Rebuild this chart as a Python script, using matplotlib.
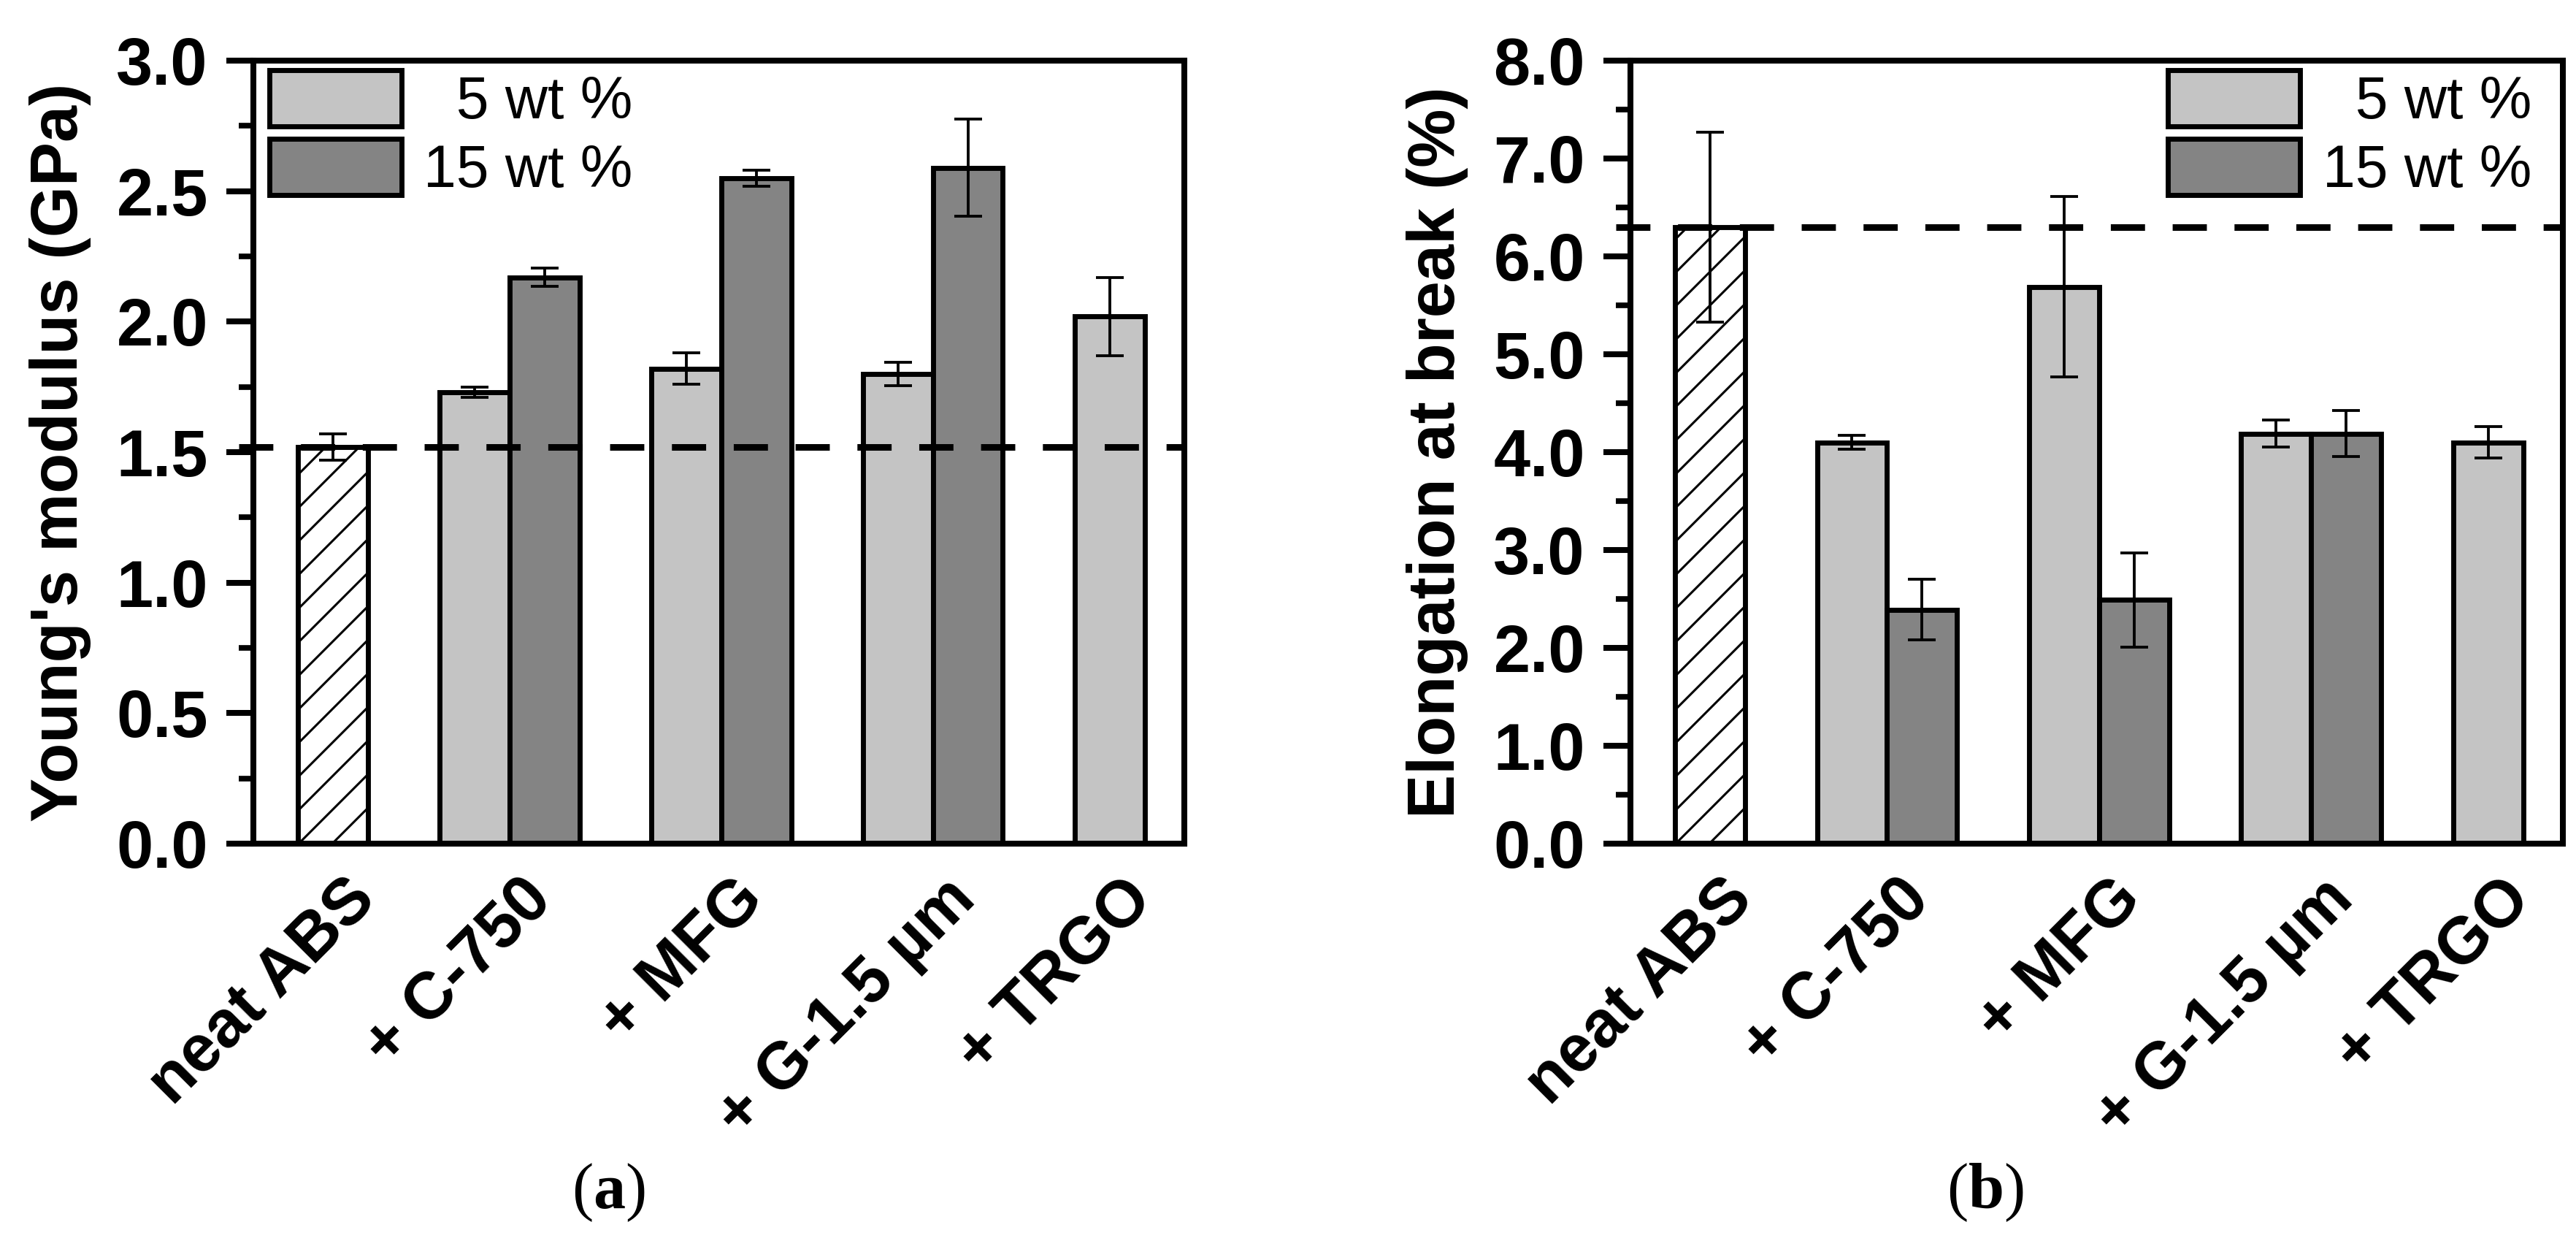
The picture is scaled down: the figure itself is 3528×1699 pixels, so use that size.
import numpy as np
import matplotlib
matplotlib.use("Agg")
import matplotlib.pyplot as plt
from matplotlib.ticker import MultipleLocator, FormatStrFormatter

# ---------------- data ----------------
categories = ["neat ABS", "+ C-750", "+ MFG", "+ G-1.5 µm", "+ TRGO"]
series_labels = ["  5 wt %", "15 wt %"]

modulus_neat = 1.52
modulus_neat_err = 0.05
modulus_5 = [np.nan, 1.73, 1.82, 1.80, 2.02]
modulus_5_err = [np.nan, 0.02, 0.06, 0.045, 0.15]
modulus_15 = [np.nan, 2.17, 2.55, 2.59, np.nan]
modulus_15_err = [np.nan, 0.035, 0.03, 0.185, np.nan]

elong_neat = 6.30
elong_neat_err = 0.97
elong_5 = [np.nan, 4.10, 5.69, 4.19, 4.10]
elong_5_err = [np.nan, 0.07, 0.92, 0.135, 0.16]
elong_15 = [np.nan, 2.39, 2.49, 4.19, np.nan]
elong_15_err = [np.nan, 0.31, 0.48, 0.235, np.nan]

modulus_ticks = [0.0, 0.5, 1.0, 1.5, 2.0, 2.5, 3.0]
elong_ticks = [0.0, 1.0, 2.0, 3.0, 4.0, 5.0, 6.0, 7.0, 8.0]

# ---------------- style ----------------
plt.rcParams['font.family'] = ['Liberation Sans', 'DejaVu Sans']
plt.rcParams['mathtext.fontset'] = 'custom'
plt.rcParams['mathtext.rm'] = 'Liberation Serif'
plt.rcParams['mathtext.bf'] = 'Liberation Serif:bold'
plt.rcParams['hatch.linewidth'] = 0.8

DPI = 276
fig = plt.figure(figsize=(3528 / DPI, 1699 / DPI), dpi=DPI)

LIGHT = '#c4c4c4'
DARK = '#848484'
W = 0.33
EDGE_LW = 1.8
SPINE_LW = 2.1
FS = 23.5

def panel(ax, neat, neat_err, v5, e5, v15, e15, ylim, ticks, minor, ylabel, legend_loc, legend_anchor):
    n = len(categories)
    x = np.arange(n)
    v5 = np.array(v5); e5 = np.array(e5)
    v15 = np.array(v15); e15 = np.array(e15)
    m5 = ~np.isnan(v5)
    m15 = ~np.isnan(v15)
    ekw = dict(elinewidth=1.0, capthick=1.0, ecolor='black')
    ax.bar(x[m5] - W / 2, v5[m5], W, yerr=e5[m5], color=LIGHT, edgecolor='black',
           linewidth=EDGE_LW, capsize=5, error_kw=ekw, label=series_labels[0], zorder=2)
    ax.bar(x[m15] + W / 2, v15[m15], W, yerr=e15[m15], color=DARK, edgecolor='black',
           linewidth=EDGE_LW, capsize=5, error_kw=ekw, label=series_labels[1], zorder=2)
    ax.bar([x[0] + W / 2], [neat], W, yerr=[neat_err], color='white', edgecolor='black',
           hatch='//', linewidth=EDGE_LW, capsize=5, error_kw=ekw, zorder=2)
    ax.axhline(neat, xmin=-0.016, xmax=1.0, color='black', lw=2.35,
               linestyle=(0, (5.2, 4.2)), zorder=4, clip_on=False)

    ax.set_xlim(-0.21, 4.187)
    ax.set_ylim(*ylim)
    ax.set_yticks(ticks)
    ax.yaxis.set_major_formatter(FormatStrFormatter('%.1f'))
    ax.yaxis.set_minor_locator(MultipleLocator(minor))
    ax.tick_params(axis='y', which='major', length=9.7, width=2.1, direction='out',
                   pad=6.5, labelsize=FS)
    ax.tick_params(axis='y', which='minor', length=5.2, width=2.0, direction='out')
    for lbl in ax.get_yticklabels():
        lbl.set_fontweight('bold')

    tick_pos = [x[0] + W / 2 + 0.05, x[1] + 0.05, x[2] + 0.05, x[3] + 0.05, x[4] - W / 2 + 0.05]
    ax.set_xticks(tick_pos)
    ax.set_xticklabels(categories, rotation=45, ha='right', va='top',
                       rotation_mode='anchor', fontsize=FS, fontweight='bold')
    ax.tick_params(axis='x', length=0, pad=8.5)

    for s in ax.spines.values():
        s.set_linewidth(SPINE_LW)
        s.set_zorder(5)

    ax.set_ylabel(ylabel, fontsize=FS, fontweight='bold')
    ax.yaxis.set_label_coords(-0.174, 0.5)

    ax.legend(loc=legend_loc, bbox_to_anchor=legend_anchor, frameon=False,
              fontsize=21, handlelength=2.25, handleheight=1.09,
              handletextpad=0.38, labelspacing=0.14, borderpad=0,
              borderaxespad=0)
    return ax

ax1 = fig.add_axes([347 / 3528, 1 - 1155 / 1699, 1275 / 3528, 1072 / 1699])
panel(ax1, modulus_neat, modulus_neat_err, modulus_5, modulus_5_err, modulus_15, modulus_15_err,
      (0, 3.0), modulus_ticks, 0.25, "Young's modulus (GPa)", 'upper left', (0.0169, 0.988))

ax2 = fig.add_axes([2233 / 3528, 1 - 1155 / 1699, 1277 / 3528, 1072 / 1699])
panel(ax2, elong_neat, elong_neat_err, elong_5, elong_5_err, elong_15, elong_15_err,
      (0, 8.0), elong_ticks, 0.5, "Elongation at break (%)", 'upper right', (0.9663, 0.988))

fig.text(833 / 3528, 1 - 1633 / 1699, r'$\mathrm{(}\mathbf{a}\mathrm{)}$', fontsize=23,
         ha='center', va='center')
fig.text(2719 / 3528, 1 - 1633 / 1699, r'$\mathrm{(}\mathbf{b}\mathrm{)}$', fontsize=23,
         ha='center', va='center')

fig.savefig('out.png', dpi=DPI, facecolor='white')
